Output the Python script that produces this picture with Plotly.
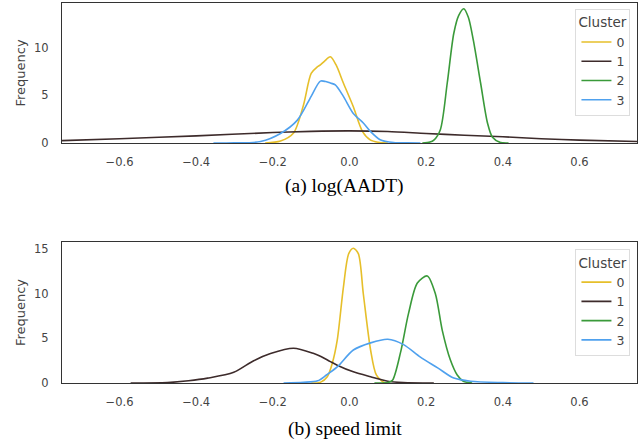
import plotly.graph_objects as go

# === 색상 ===
C0 = "#E6BF2A"   # cluster 0 - yellow
C1 = "#3D2B2B"   # cluster 1 - dark brown
C2 = "#3A9A3A"   # cluster 2 - green
C3 = "#4FA1EE"   # cluster 3 - blue
AXIS = "#333333"
TICK = "#444444"

CLUSTERS = ["0", "1", "2", "3"]
COLORS = [C0, C1, C2, C3]

# --- (a) log(AADT) ---
a0_x = [-0.22, -0.18, -0.146, -0.12, -0.1, -0.084, -0.076, -0.065, -0.05, -0.035,
        -0.016, 0.01, 0.034, 0.055, 0.075, 0.1]
a0_y = [0.0, 0.2, 1.05, 4.0, 7.3, 8.0, 8.2, 8.6, 9.05, 8.2,
        6.3, 3.8, 1.2, 0.3, 0.08, 0.0]

a1_x = [-0.75, -0.6, -0.4, -0.2, -0.1, 0.0, 0.1, 0.2, 0.3, 0.4, 0.5, 0.6, 0.75]
a1_y = [0.25, 0.45, 0.75, 1.1, 1.22, 1.27, 1.2, 1.0, 0.82, 0.65, 0.45, 0.3, 0.15]

a2_x = [0.19, 0.21, 0.22, 0.237, 0.255, 0.272, 0.285, 0.298, 0.31, 0.323, 0.342,
        0.36, 0.373, 0.394, 0.415]
a2_y = [0.0, 0.1, 0.3, 1.4, 6.3, 11.5, 13.4, 14.1, 13.2, 10.8, 6.3,
        2.1, 0.6, 0.05, 0.0]

a3_x = [-0.355, -0.3, -0.232, -0.18, -0.136, -0.1, -0.076, -0.062, -0.05, -0.037,
        -0.016, 0.01, 0.036, 0.055, 0.08, 0.115, 0.15, 0.185]
a3_y = [0.0, 0.02, 0.15, 1.0, 2.4, 4.9, 6.5, 6.45, 6.3, 6.1,
        4.9, 3.1, 2.1, 1.2, 0.35, 0.05, 0.01, 0.0]

# --- (b) speed limit ---
b0_x = [-0.1, -0.075, -0.058, -0.045, -0.032, -0.016, -0.002, 0.01, 0.023, 0.036,
        0.055, 0.07, 0.09, 0.1]
b0_y = [0.0, 0.1, 0.7, 2.2, 4.8, 10.7, 14.5, 15.1, 14.5, 10.0,
        3.7, 0.9, 0.05, 0.0]

b1_x = [-0.571, -0.475, -0.42, -0.37, -0.302, -0.25, -0.206, -0.146, -0.093, -0.076,
        -0.05, -0.032, 0.01, 0.055, 0.1, 0.14, 0.22]
b1_y = [0.0, 0.05, 0.25, 0.55, 1.2, 2.5, 3.3, 3.9, 3.3, 3.0,
        2.4, 2.0, 1.25, 0.7, 0.2, 0.05, 0.0]

b2_x = [0.065, 0.1, 0.112, 0.133, 0.154, 0.177, 0.203, 0.224, 0.242, 0.263,
        0.281, 0.297, 0.32]
b2_y = [0.0, 0.05, 0.3, 3.4, 7.8, 11.2, 12.0, 10.0, 5.9, 2.6,
        0.9, 0.2, 0.0]

b3_x = [-0.172, -0.12, -0.083, -0.06, -0.032, 0.01, 0.055, 0.1, 0.141, 0.185,
        0.23, 0.272, 0.316, 0.4, 0.48]
b3_y = [0.0, 0.08, 0.25, 0.9, 1.8, 3.7, 4.5, 4.9, 4.3, 2.9,
        1.7, 0.55, 0.2, 0.05, 0.0]

X_TICKS = [-0.6, -0.4, -0.2, 0.0, 0.2, 0.4, 0.6]
X_LABELS = ["\u22120.6", "\u22120.4", "\u22120.2", "0.0", "0.2", "0.4", "0.6"]

fig = go.Figure()

panels = [
    ([a0_x, a1_x, a2_x, a3_x], [a0_y, a1_y, a2_y, a3_y], "x", "y", "legend"),
    ([b0_x, b1_x, b2_x, b3_x], [b0_y, b1_y, b2_y, b3_y], "x2", "y2", "legend2"),
]
for xs, ys, xa, ya, lg in panels:
    for name, color, x, y in zip(CLUSTERS, COLORS, xs, ys):
        fig.add_trace(go.Scatter(
            x=x, y=y, mode="lines", name=name,
            line=dict(color=color, width=1.6, shape="spline", smoothing=0.8),
            xaxis=xa, yaxis=ya, legend=lg,
        ))

xaxis_style = dict(
    range=[-0.75, 0.75], tickvals=X_TICKS, ticktext=X_LABELS,
    showline=True, linecolor=AXIS, linewidth=1.3, mirror=True,
    showgrid=False, zeroline=False, ticks="", automargin=False,
    ticklabelstandoff=8,
    tickfont=dict(family="DejaVu Sans", size=11.5, color=TICK),
)
yaxis_style = dict(
    showline=True, linecolor=AXIS, linewidth=1.3, mirror=True,
    showgrid=False, zeroline=False, ticks="", automargin=False,
    ticklabelstandoff=10,
    tickfont=dict(family="DejaVu Sans", size=11.5, color=TICK),
    title=dict(text="Frequency", font=dict(family="DejaVu Sans", size=13, color=TICK),
               standoff=5),
)
legend_style = dict(
    title=dict(text="Cluster", font=dict(family="DejaVu Sans", size=13.5, color=TICK)),
    font=dict(family="DejaVu Sans", size=12.5, color=TICK),
    bgcolor="rgba(255,255,255,0.85)", bordercolor="#DDDDDD", borderwidth=1,
    xanchor="right", yanchor="top", itemwidth=30, tracegroupgap=0,
)

fig.update_layout(
    width=642, height=443,
    margin=dict(l=0, r=0, t=0, b=0, autoexpand=False),
    paper_bgcolor="white", plot_bgcolor="white",
    xaxis=dict(domain=[0.0966, 0.9922], anchor="y", **xaxis_style),
    yaxis=dict(domain=[0.6772, 0.9932], anchor="x", range=[0, 14.7],
               tickvals=[0, 5, 10], **yaxis_style),
    xaxis2=dict(domain=[0.0966, 0.9922], anchor="y2", **xaxis_style),
    yaxis2=dict(domain=[0.1354, 0.4537], anchor="x2", range=[0, 15.8],
                tickvals=[0, 5, 10, 15], **yaxis_style),
    legend=dict(x=0.982, y=0.98, **legend_style),
    legend2=dict(x=0.982, y=0.438, **legend_style),
    showlegend=True,
)

# 캡션
for text, ypx in [("(a) log(AADT)", 186), ("(b) speed limit", 429)]:
    fig.add_annotation(text=text, x=0.537, y=1 - ypx / 443, xref="paper", yref="paper",
                       xanchor="center", yanchor="middle", showarrow=False,
                       font=dict(family="Liberation Serif", size=19.5, color="black"))

# 페이지 기본 여백 제거 (body margin 8px)
fig.write_html("out.html", config={"displayModeBar": False},
               post_script="document.body.style.margin='0';")
